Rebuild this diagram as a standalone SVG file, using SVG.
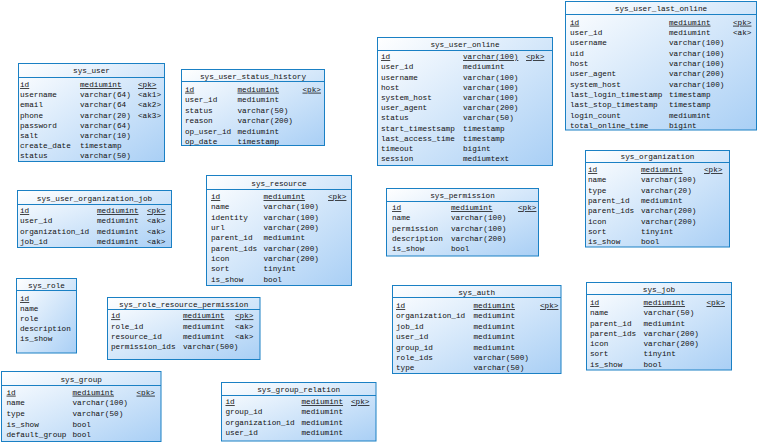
<svg xmlns="http://www.w3.org/2000/svg" width="760" height="442" viewBox="0 0 760 442">
  <defs>
    <linearGradient id="tblFill" x1="0" y1="0" x2="1" y2="1">
      <stop offset="0" stop-color="#ffffff"/>
      <stop offset="1" stop-color="#a9cff5"/>
    </linearGradient>
    <style>
      .box { fill: url(#tblFill); stroke: #1a80c4; stroke-width: 1; }
      .sep { stroke: #1a80c4; stroke-width: 1; }
      text { font-family: "Liberation Mono", "DejaVu Sans Mono", monospace; font-size: 7.7px; fill: #111; }
      .title { text-anchor: middle; }
      .u { text-decoration: underline; }
    </style>
  </defs>

  <rect width="760" height="442" fill="#ffffff"/>

  <!-- sys_user -->
  <g id="sys_user">
    <rect class="box" x="18.5" y="63.5" width="146" height="98"/>
    <line class="sep" x1="18.5" y1="77.5" x2="164.5" y2="77.5"/>
    <text class="title" x="91.5" y="73">sys_user</text>
    <text class="u" x="20" y="87">id</text><text class="u" x="80" y="87">mediumint</text><text class="u" x="138" y="87">&lt;pk&gt;</text>
    <text x="20" y="97.2">username</text><text x="80" y="97.2">varchar(64)</text><text x="138" y="97.2">&lt;ak1&gt;</text>
    <text x="20" y="107.3">email</text><text x="80" y="107.3">varchar(64</text><text x="138" y="107.3">&lt;ak2&gt;</text>
    <text x="20" y="117.5">phone</text><text x="80" y="117.5">varchar(20)</text><text x="138" y="117.5">&lt;ak3&gt;</text>
    <text x="20" y="127.6">password</text><text x="80" y="127.6">varchar(64)</text>
    <text x="20" y="137.8">salt</text><text x="80" y="137.8">varchar(10)</text>
    <text x="20" y="147.9">create_date</text><text x="80" y="147.9">timestamp</text>
    <text x="20" y="158.1">status</text><text x="80" y="158.1">varchar(50)</text>
  </g>

  <!-- sys_user_status_history -->
  <g id="sys_user_status_history">
    <rect class="box" x="181.5" y="69.5" width="143" height="76"/>
    <line class="sep" x1="181.5" y1="81.5" x2="324.5" y2="81.5"/>
    <text class="title" x="253" y="78.5">sys_user_status_history</text>
    <text class="u" x="185" y="91.7">id</text><text class="u" x="237.5" y="91.7">mediumint</text><text class="u" x="302.5" y="91.7">&lt;pk&gt;</text>
    <text x="185" y="102.2">user_id</text><text x="237.5" y="102.2">mediumint</text>
    <text x="185" y="112.7">status</text><text x="237.5" y="112.7">varchar(50)</text>
    <text x="185" y="123.2">reason</text><text x="237.5" y="123.2">varchar(200)</text>
    <text x="185" y="133.7">op_user_id</text><text x="237.5" y="133.7">mediumint</text>
    <text x="185" y="144.2">op_date</text><text x="237.5" y="144.2">timestamp</text>
  </g>

  <!-- sys_user_online -->
  <g id="sys_user_online">
    <rect class="box" x="377.5" y="37.5" width="175" height="128"/>
    <line class="sep" x1="377.5" y1="50.5" x2="552.5" y2="50.5"/>
    <text class="title" x="465" y="46.5">sys_user_online</text>
    <text class="u" x="381" y="59">id</text><text class="u" x="463" y="59">varchar(100)</text><text class="u" x="526" y="59">&lt;pk&gt;</text>
    <text x="381" y="69.2">user_id</text><text x="463" y="69.2">mediumint</text>
    <text x="381" y="79.5">username</text><text x="463" y="79.5">varchar(100)</text>
    <text x="381" y="89.7">host</text><text x="463" y="89.7">varchar(100)</text>
    <text x="381" y="99.9">system_host</text><text x="463" y="99.9">varchar(100)</text>
    <text x="381" y="110.2">user_agent</text><text x="463" y="110.2">varchar(200)</text>
    <text x="381" y="120.4">status</text><text x="463" y="120.4">varchar(50)</text>
    <text x="381" y="130.6">start_timestsamp</text><text x="463" y="130.6">timestamp</text>
    <text x="381" y="140.8">last_access_time</text><text x="463" y="140.8">timestamp</text>
    <text x="381" y="151.1">timeout</text><text x="463" y="151.1">bigint</text>
    <text x="381" y="161.3">session</text><text x="463" y="161.3">mediumtext</text>
  </g>

  <!-- sys_user_last_online -->
  <g id="sys_user_last_online">
    <rect class="box" x="565.5" y="1.5" width="191" height="128.5"/>
    <line class="sep" x1="565.5" y1="14.5" x2="756.5" y2="14.5"/>
    <text class="title" x="661" y="11">sys_user_last_online</text>
    <text class="u" x="570" y="24.7">id</text><text class="u" x="669" y="24.7">mediumint</text><text class="u" x="733" y="24.7">&lt;pk&gt;</text>
    <text x="570" y="35">user_id</text><text x="669" y="35">mediumint</text><text x="733" y="35">&lt;ak&gt;</text>
    <text x="570" y="45.4">username</text><text x="669" y="45.4">varchar(100)</text>
    <text x="570" y="55.7">uid</text><text x="669" y="55.7">varchar(100)</text>
    <text x="570" y="66">host</text><text x="669" y="66">varchar(100)</text>
    <text x="570" y="76.4">user_agent</text><text x="669" y="76.4">varchar(200)</text>
    <text x="570" y="86.7">system_host</text><text x="669" y="86.7">varchar(100)</text>
    <text x="570" y="97">last_login_timestamp</text><text x="669" y="97">timestamp</text>
    <text x="570" y="107.3">last_stop_timestamp</text><text x="669" y="107.3">timestamp</text>
    <text x="570" y="117.7">login_count</text><text x="669" y="117.7">mediumint</text>
    <text x="570" y="128">total_online_time</text><text x="669" y="128">bigint</text>
  </g>

  <!-- sys_user_organization_job -->
  <g id="sys_user_organization_job">
    <rect class="box" x="17.5" y="190.5" width="154" height="57"/>
    <line class="sep" x1="17.5" y1="204.5" x2="171.5" y2="204.5"/>
    <text class="title" x="94.5" y="200.5">sys_user_organization_job</text>
    <text class="u" x="20" y="213">id</text><text class="u" x="97" y="213">mediumint</text><text class="u" x="147" y="213">&lt;pk&gt;</text>
    <text x="20" y="223.3">user_id</text><text x="97" y="223.3">mediumint</text><text x="147" y="223.3">&lt;ak&gt;</text>
    <text x="20" y="233.6">organization_id</text><text x="97" y="233.6">mediumint</text><text x="147" y="233.6">&lt;ak&gt;</text>
    <text x="20" y="243.9">job_id</text><text x="97" y="243.9">mediumint</text><text x="147" y="243.9">&lt;ak&gt;</text>
  </g>

  <!-- sys_resource -->
  <g id="sys_resource">
    <rect class="box" x="206.5" y="175.5" width="145" height="110"/>
    <line class="sep" x1="206.5" y1="189.5" x2="351.5" y2="189.5"/>
    <text class="title" x="279" y="185.5">sys_resource</text>
    <text class="u" x="211" y="199">id</text><text class="u" x="263.5" y="199">mediumint</text><text class="u" x="328" y="199">&lt;pk&gt;</text>
    <text x="211" y="209.3">name</text><text x="263.5" y="209.3">varchar(100)</text>
    <text x="211" y="219.7">identity</text><text x="263.5" y="219.7">varchar(100)</text>
    <text x="211" y="230">url</text><text x="263.5" y="230">varchar(200)</text>
    <text x="211" y="240.3">parent_id</text><text x="263.5" y="240.3">mediumint</text>
    <text x="211" y="250.7">parent_ids</text><text x="263.5" y="250.7">varchar(200)</text>
    <text x="211" y="261">icon</text><text x="263.5" y="261">varchar(200)</text>
    <text x="211" y="271.3">sort</text><text x="263.5" y="271.3">tinyint</text>
    <text x="211" y="281.7">is_show</text><text x="263.5" y="281.7">bool</text>
  </g>

  <!-- sys_permission -->
  <g id="sys_permission">
    <rect class="box" x="386.5" y="188.5" width="152" height="67.5"/>
    <line class="sep" x1="386.5" y1="201.5" x2="538.5" y2="201.5"/>
    <text class="title" x="462.5" y="197.5">sys_permission</text>
    <text class="u" x="392" y="210">id</text><text class="u" x="451" y="210">mediumint</text><text class="u" x="518" y="210">&lt;pk&gt;</text>
    <text x="392" y="220.3">name</text><text x="451" y="220.3">varchar(100)</text>
    <text x="392" y="230.5">permission</text><text x="451" y="230.5">varchar(100)</text>
    <text x="392" y="240.8">description</text><text x="451" y="240.8">varchar(200)</text>
    <text x="392" y="251">is_show</text><text x="451" y="251">bool</text>
  </g>

  <!-- sys_organization -->
  <g id="sys_organization">
    <rect class="box" x="585.5" y="150.5" width="144" height="96.5"/>
    <line class="sep" x1="585.5" y1="162.5" x2="729.5" y2="162.5"/>
    <text class="title" x="657.5" y="159">sys_organization</text>
    <text class="u" x="588" y="172">id</text><text class="u" x="641" y="172">mediumint</text><text class="u" x="704" y="172">&lt;pk&gt;</text>
    <text x="588" y="182.3">name</text><text x="641" y="182.3">varchar(100)</text>
    <text x="588" y="192.6">type</text><text x="641" y="192.6">varchar(20)</text>
    <text x="588" y="202.9">parent_id</text><text x="641" y="202.9">mediumint</text>
    <text x="588" y="213.2">parent_ids</text><text x="641" y="213.2">varchar(200)</text>
    <text x="588" y="223.5">icon</text><text x="641" y="223.5">varchar(200)</text>
    <text x="588" y="233.8">sort</text><text x="641" y="233.8">tinyint</text>
    <text x="588" y="244.1">is_show</text><text x="641" y="244.1">bool</text>
  </g>

  <!-- sys_role -->
  <g id="sys_role">
    <rect class="box" x="16.5" y="278.5" width="60" height="74.5"/>
    <line class="sep" x1="16.5" y1="290.5" x2="76.5" y2="290.5"/>
    <text class="title" x="46.5" y="287.5">sys_role</text>
    <text class="u" x="20" y="301">id</text>
    <text x="20" y="311">name</text>
    <text x="20" y="321">role</text>
    <text x="20" y="331">description</text>
    <text x="20" y="341">is_show</text>
  </g>

  <!-- sys_role_resource_permission -->
  <g id="sys_role_resource_permission">
    <rect class="box" x="107.5" y="297.5" width="152.5" height="62"/>
    <line class="sep" x1="107.5" y1="309.5" x2="260" y2="309.5"/>
    <text class="title" x="183.7" y="306.5">sys_role_resource_permission</text>
    <text class="u" x="111" y="318.3">id</text><text class="u" x="183" y="318.3">mediumint</text><text class="u" x="235" y="318.3">&lt;pk&gt;</text>
    <text x="111" y="328.5">role_id</text><text x="183" y="328.5">mediumint</text><text x="235" y="328.5">&lt;ak&gt;</text>
    <text x="111" y="338.7">resource_id</text><text x="183" y="338.7">mediumint</text><text x="235" y="338.7">&lt;ak&gt;</text>
    <text x="111" y="348.9">permission_ids</text><text x="183" y="348.9">varchar(500)</text>
  </g>

  <!-- sys_auth -->
  <g id="sys_auth">
    <rect class="box" x="392.5" y="285.5" width="168.5" height="88"/>
    <line class="sep" x1="392.5" y1="297.5" x2="561" y2="297.5"/>
    <text class="title" x="476.7" y="294.5">sys_auth</text>
    <text class="u" x="396" y="308">id</text><text class="u" x="473.5" y="308">mediumint</text><text class="u" x="540" y="308">&lt;pk&gt;</text>
    <text x="396" y="318.4">organization_id</text><text x="473.5" y="318.4">mediumint</text>
    <text x="396" y="328.8">job_id</text><text x="473.5" y="328.8">mediumint</text>
    <text x="396" y="339.2">user_id</text><text x="473.5" y="339.2">mediumint</text>
    <text x="396" y="349.6">group_id</text><text x="473.5" y="349.6">mediumint</text>
    <text x="396" y="360">role_ids</text><text x="473.5" y="360">varchar(500)</text>
    <text x="396" y="370.4">type</text><text x="473.5" y="370.4">varchar(50)</text>
  </g>

  <!-- sys_job -->
  <g id="sys_job">
    <rect class="box" x="586.5" y="282.5" width="145" height="87.5"/>
    <line class="sep" x1="586.5" y1="294.5" x2="731.5" y2="294.5"/>
    <text class="title" x="659" y="291.5">sys_job</text>
    <text class="u" x="590" y="305">id</text><text class="u" x="643.5" y="305">mediumint</text><text class="u" x="706.5" y="305">&lt;pk&gt;</text>
    <text x="590" y="315.3">name</text><text x="643.5" y="315.3">varchar(50)</text>
    <text x="590" y="325.6">parent_id</text><text x="643.5" y="325.6">mediumint</text>
    <text x="590" y="335.8">parent_ids</text><text x="643.5" y="335.8">varchar(200)</text>
    <text x="590" y="346.1">icon</text><text x="643.5" y="346.1">varchar(200)</text>
    <text x="590" y="356.4">sort</text><text x="643.5" y="356.4">tinyint</text>
    <text x="590" y="366.7">is_show</text><text x="643.5" y="366.7">bool</text>
  </g>

  <!-- sys_group -->
  <g id="sys_group">
    <rect class="box" x="1.5" y="371.5" width="159.5" height="70"/>
    <line class="sep" x1="1.5" y1="385.5" x2="161" y2="385.5"/>
    <text class="title" x="81.2" y="381.5">sys_group</text>
    <text class="u" x="6.5" y="394.7">id</text><text class="u" x="72.5" y="394.7">mediumint</text><text class="u" x="136.5" y="394.7">&lt;pk&gt;</text>
    <text x="6.5" y="405.3">name</text><text x="72.5" y="405.3">varchar(100)</text>
    <text x="6.5" y="415.9">type</text><text x="72.5" y="415.9">varchar(50)</text>
    <text x="6.5" y="426.5">is_show</text><text x="72.5" y="426.5">bool</text>
    <text x="6.5" y="437.1">default_group</text><text x="72.5" y="437.1">bool</text>
  </g>

  <!-- sys_group_relation -->
  <g id="sys_group_relation">
    <rect class="box" x="221.5" y="382.5" width="154.5" height="58.5"/>
    <line class="sep" x1="221.5" y1="395.5" x2="376" y2="395.5"/>
    <text class="title" x="298.7" y="392">sys_group_relation</text>
    <text class="u" x="225.5" y="404">id</text><text class="u" x="301.5" y="404">mediumint</text><text class="u" x="351" y="404">&lt;pk&gt;</text>
    <text x="225.5" y="414.4">group_id</text><text x="301.5" y="414.4">mediumint</text>
    <text x="225.5" y="424.8">organization_id</text><text x="301.5" y="424.8">mediumint</text>
    <text x="225.5" y="435.2">user_id</text><text x="301.5" y="435.2">mediumint</text>
  </g>
</svg>
